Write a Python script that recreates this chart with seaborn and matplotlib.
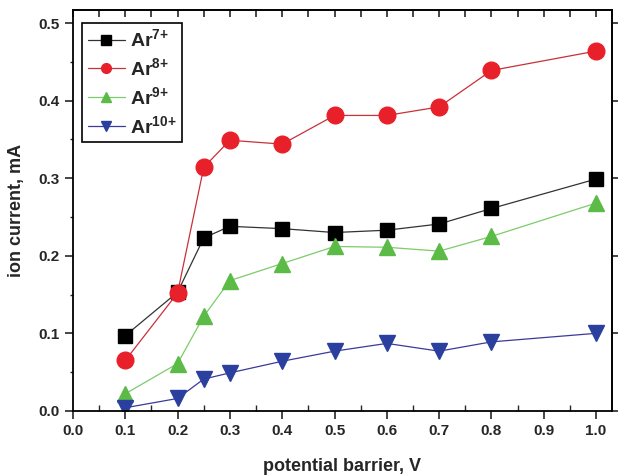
import numpy as np
import pandas as pd
import seaborn as sns
import matplotlib.pyplot as plt
from matplotlib.ticker import MultipleLocator

sns.set_theme(style="ticks")
plt.rcParams["font.family"] = ["Liberation Sans", "DejaVu Sans"]
plt.rcParams["font.weight"] = "bold"
plt.rcParams["mathtext.fontset"] = "custom"
plt.rcParams["mathtext.bf"] = "Liberation Sans:bold"
plt.rcParams["mathtext.default"] = "bf"

barrier = [0.1, 0.2, 0.25, 0.3, 0.4, 0.5, 0.6, 0.7, 0.8, 1.0]
ar7 = [0.097, 0.153, 0.223, 0.238, 0.235, 0.230, 0.233, 0.241, 0.261, 0.299]
ar8 = [0.065, 0.152, 0.314, 0.349, 0.344, 0.381, 0.381, 0.392, 0.439, 0.464]
ar9 = [0.022, 0.061, 0.122, 0.168, 0.190, 0.212, 0.211, 0.206, 0.225, 0.268]
ar10 = [0.004, 0.016, 0.041, 0.049, 0.064, 0.077, 0.087, 0.077, 0.089, 0.100]
ions = ["Ar7+", "Ar8+", "Ar9+", "Ar10+"]
labels = [r"Ar$^{\mathbf{7{+}}}$", r"Ar$^{\mathbf{8{+}}}$",
          r"Ar$^{\mathbf{9{+}}}$", r"Ar$^{\mathbf{10{+}}}$"]

df = pd.DataFrame({
    "barrier": barrier * 4,
    "current": ar7 + ar8 + ar9 + ar10,
    "ion": np.repeat(ions, len(barrier)),
})

colors = {"Ar7+": "#000000", "Ar8+": "#e8202a", "Ar9+": "#5cbb46", "Ar10+": "#2b3f9e"}
line_colors = {"Ar7+": "#333333", "Ar8+": "#c8303a", "Ar9+": "#7ccc6a", "Ar10+": "#3a3a9a"}
markers = {"Ar7+": "s", "Ar8+": "o", "Ar9+": "^", "Ar10+": "v"}
sizes = {"Ar7+": 10.5, "Ar8+": 12, "Ar9+": 12, "Ar10+": 12}

fig, ax = plt.subplots(figsize=(6.18, 4.75), dpi=100)
fig.subplots_adjust(left=0.118, right=0.99, bottom=0.135, top=0.979)

for ion in ions:
    sub = df[df.ion == ion]
    sns.lineplot(data=sub, x="barrier", y="current", ax=ax, color=line_colors[ion],
                 lw=0.9, marker=None, label="_nolegend_", sort=False)
    ax.plot(sub.barrier, sub.current, ls="none", marker=markers[ion], ms=sizes[ion],
            color=colors[ion], mec=colors[ion])

ax.set_xlim(0, 1.03)
ax.set_ylim(0, 0.517)
ax.xaxis.set_major_locator(MultipleLocator(0.1))
ax.xaxis.set_minor_locator(MultipleLocator(0.05))
ax.yaxis.set_major_locator(MultipleLocator(0.1))
ax.yaxis.set_minor_locator(MultipleLocator(0.05))
ax.tick_params(which="major", direction="out", length=6, width=1.2, labelsize=11)
ax.tick_params(axis="x", which="minor", direction="in", length=4, width=1)
ax.tick_params(axis="y", which="minor", direction="out", length=2, width=1)
for spine in ax.spines.values():
    spine.set_visible(True)
    spine.set_linewidth(1.3)
    spine.set_color("black")

top = ax.secondary_xaxis("top")
top.xaxis.set_major_locator(MultipleLocator(0.05))
top.tick_params(direction="in", length=5, width=1.2, labeltop=False)
right = ax.secondary_yaxis("right")
right.yaxis.set_major_locator(MultipleLocator(0.1))
right.tick_params(direction="out", length=6, width=1.2, labelright=False)

ax.set_xlabel("potential barrier, V", fontsize=13, fontweight="bold", labelpad=14)
ax.set_ylabel("ion current, mA", fontsize=13, fontweight="bold", labelpad=10)

handles = [
    plt.Line2D([], [], color=line_colors[ion], lw=0.9, marker=markers[ion], ms=7,
               mfc=colors[ion], mec=colors[ion])
    for ion in ions
]
leg = ax.legend(handles, labels, loc="upper left", bbox_to_anchor=(0.017, 0.968),
                frameon=True, fancybox=False, edgecolor="black", framealpha=1,
                handlelength=1.9, prop={"size": 14, "weight": "bold"},
                labelspacing=0.35, handletextpad=0.25, borderpad=0.3,
                borderaxespad=0)
leg.get_frame().set_linewidth(1.2)

fig.savefig("out.png", dpi=100)
